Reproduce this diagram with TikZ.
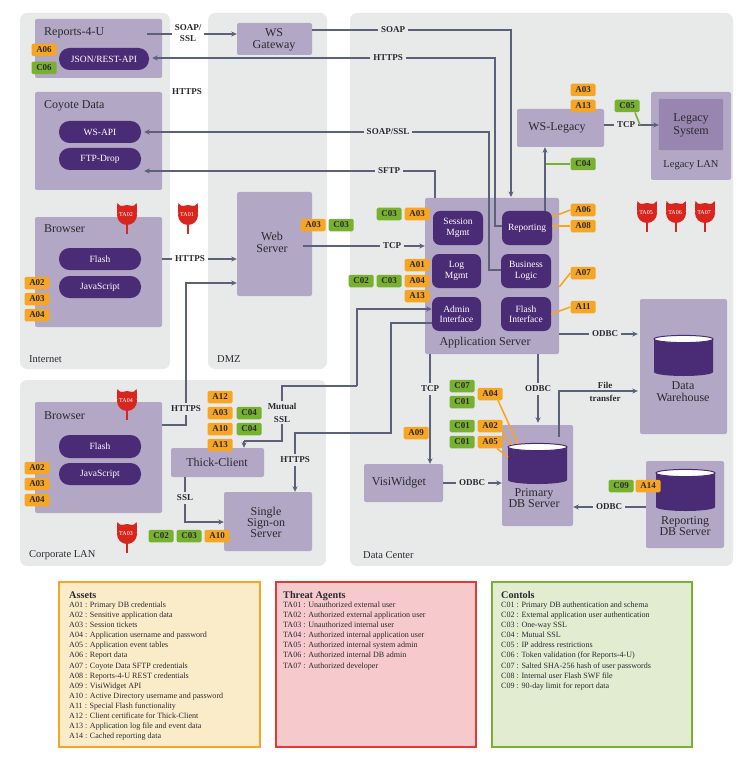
\documentclass[tikz,border=0pt]{standalone}
\usepackage{fontspec}
\setmainfont{Liberation Serif}
\usetikzlibrary{arrows.meta,calc}
\definecolor{zonec}{HTML}{E8EAEA}
\definecolor{boxc}{HTML}{B2A7C4}
\definecolor{pillc}{HTML}{4A2B75}
\definecolor{orangec}{HTML}{F6A623}
\definecolor{greenc}{HTML}{78B12F}
\definecolor{linec}{HTML}{5A6178}
\definecolor{redc}{HTML}{D8261F}
\definecolor{legacyc}{HTML}{9885B0}
\definecolor{txtc}{HTML}{2A2A30}
\definecolor{legA}{HTML}{FBECC9}
\definecolor{legT}{HTML}{F6C9CC}
\definecolor{legC}{HTML}{E2ECD0}
\definecolor{legTs}{HTML}{E03A34}
\newcommand\fs[1]{\fontsize{#1}{#1}\selectfont}
\newcommand\rr[7]{% name, style, x1,y1,x2,y2,text
  \pgfmathsetmacro\wdt{#5-#3}\pgfmathsetmacro\hgt{#6-#4}
  \pgfmathsetmacro\ccx{(#3+#5)/2}\pgfmathsetmacro\ccy{(#4+#6)/2}
  \node[#2,minimum width=\wdt pt,minimum height=\hgt pt] (#1) at (\ccx,\ccy) {#7};}
\newcommand\oa[3]{\node[oa] (#1) at (#2) {#3};}
\newcommand\ga[3]{\node[ga] (#1) at (#2) {#3};}
\newcommand\devil[4]{% name,x,y,text
  \begin{scope}[shift={(#2,#3)}]
  \fill[redc] (0,0) circle[radius=10pt];
  \fill[redc] (-10,-2) -- (-9.7,-12) .. controls (-8.5,-9.5) and (-6,-8.5) .. (-3,-9) -- (3,-9)
     .. controls (6,-8.5) and (8.5,-9.5) .. (9.7,-12) -- (10,-2) -- cycle;
  \fill[redc] (-1.3,8) rectangle (1.3,19);
  \node[inner sep=0pt,text=white,font=\fs{6}] (#1) at (-1,0) {#4};
  \end{scope}}
\newcommand\dbcyl[4]{% x1,x2,ytop,ybottom
  \pgfmathsetmacro\rxx{(#2-#1)/2}\pgfmathsetmacro\mxx{(#1+#2)/2}\pgfmathsetmacro\topc{#3+4}\pgfmathsetmacro\botc{#4-4}
  \fill[pillc] (#1,\topc) -- (#2,\topc) -- (#2,\botc) arc[start angle=0,end angle=-180,x radius=\rxx pt,y radius=4pt] -- cycle;
  \draw[pillc,fill=white,line width=1pt] (\mxx,\topc) ellipse[x radius=\rxx pt,y radius=3.6pt];}
\tikzset{
  x=1pt,y=-1pt,
  zone/.style={fill=zonec,rounded corners=7pt,draw=none,inner sep=0pt},
  box/.style={fill=boxc,rounded corners=2pt,draw=none,inner sep=0pt,align=center,font=\fs{12},text=txtc},
  pill/.style={fill=pillc,rounded corners=10.5pt,draw=none,inner sep=0pt,align=center,font=\fs{9.5},text=white},
  sq/.style={fill=pillc,rounded corners=7pt,draw=none,inner sep=0pt,align=center,font=\fs{9.5},text=white},
  title/.style={inner sep=0pt,anchor=base west,font=\fs{12},text=txtc},
  ctitle/.style={inner sep=0pt,align=center,font=\fs{12},text=txtc},
  zlabel/.style={inner sep=0pt,anchor=base west,font=\fs{10.5},text=txtc},
  oa/.style={fill=orangec,rounded corners=1.5pt,minimum width=25pt,minimum height=12.5pt,inner sep=0pt,font=\bfseries\fs{9},text=txtc},
  ga/.style={fill=greenc,rounded corners=1.5pt,minimum width=25pt,minimum height=12.5pt,inner sep=0pt,font=\bfseries\fs{9},text=txtc},
  lab/.style={inner sep=3pt,outer sep=0pt,font=\bfseries\fs{9},text=txtc,align=center},
  conn/.style={draw=linec,line width=1.2pt},
  arr/.style={conn,-{Stealth[length=5.5pt,width=5pt]}},
  oleader/.style={draw=orangec,line width=1.6pt},
  gleader/.style={draw=greenc,line width=1.6pt},
  legend/.style={inner sep=0pt,anchor=north west,align=left,font=\fontsize{8.05}{10.13}\selectfont,text=txtc},
  legendt/.style={inner sep=0pt,anchor=base west,font=\bfseries\fs{10.2},text=txtc},
}
\begin{document}
\begin{tikzpicture}
\useasboundingbox (0,0) rectangle (748,759);
\fill[white] (0,0) rectangle (748,759);
% zones
\rr{internet}{zone}{20}{13}{170}{369}{}
\rr{dmz}{zone}{208}{13}{327}{369}{}
\rr{corp}{zone}{20}{380}{326}{566}{}
\rr{dc}{zone}{350}{13}{733}{566}{}
\node[zlabel] (zi) at (29,362.5) {Internet};
\node[zlabel] (zd) at (217,362.5) {DMZ};
\node[zlabel] (zc) at (29,557) {Corporate LAN};
\node[zlabel] (zdc) at (363,558) {Data Center};
% boxes
\rr{reports}{box}{35}{19}{162}{78}{}
\rr{coyote}{box}{35}{92}{162}{190}{}
\rr{browser}{box}{35}{217}{162}{327}{}
\rr{gateway}{box}{237}{23}{312}{55}{}
\rr{web}{box}{237}{192}{312}{296}{}
\rr{appsrv}{box}{425}{198}{559}{354}{}
\rr{wslegacy}{box}{517}{109}{604}{147}{}
\rr{legacylan}{box}{651}{92}{731}{180}{}
\rr{legacysys}{box}{659}{99}{723}{150}{}
\rr{warehouse}{box}{640}{299}{727}{434}{}
\rr{primary}{box}{502}{425}{573}{526}{}
\rr{visi}{box}{364}{464}{443}{502}{}
\rr{repdb}{box}{646}{461}{724}{548}{}
\rr{cbrowser}{box}{35}{402}{162}{513}{}
\rr{thick}{box}{171}{448}{264}{477}{}
\rr{sso}{box}{224}{492}{312}{551}{}
\fill[legacyc,rounded corners=1pt] (legacysys.south west) rectangle (legacysys.north east);
\node[ctitle] (tgw) at (274,39.5) {WS\\Gateway};
\node[ctitle] (tweb) at (272,242.5) {Web\\Server};
\node[ctitle] (tlegacyws) at (557,128) {WS-Legacy};
\node[ctitle] (tvisi) at (399,483) {VisiWidget};
\node[ctitle] (tthick) at (217,462) {Thick-Client};
\node[ctitle] (tsso) at (266,522.5) {Single\\[-1pt]Sign-on\\[-1pt]Server};
\node[ctitle] (legacytxt) at (691,125) {Legacy\\[1pt]System};
\node[inner sep=0pt,font=\fs{10.5},text=txtc,anchor=base] (legacylab) at (691,168) {Legacy LAN};
\node[title] (treports) at (44,36) {Reports-4-U};
\node[title] (tcoyote) at (44,109) {Coyote Data};
\node[title] (tbrowser) at (44,233) {Browser};
\node[title] (tcbrowser) at (44,419) {Browser};
\node[ctitle] (tapp) at (485,343) {Application Server};
\node[ctitle] (twh) at (683,392) {Data\\Warehouse};
\node[ctitle] (tprim) at (534,498.5) {Primary\\[-1pt]DB Server};
\node[ctitle] (trep) at (685,526.5) {Reporting\\[-1pt]DB Server};
% connector labels
\node[lab] (l1) at (188,33.5) {SOAP/\\[2pt]SSL};
\node[lab] (l2) at (393,30) {SOAP};
\node[lab] (l3) at (388,58) {HTTPS};
\node[lab] (l4) at (388,132) {SOAP/SSL};
\node[lab] (l5) at (389,171) {SFTP};
\node[lab] (l6) at (626,125) {TCP};
\node[lab] (l7) at (392,246) {TCP};
\node[lab] (l8) at (190,259) {HTTPS};
\node[lab] (l9) at (186,409) {HTTPS};
\node[lab,inner sep=2pt] (l10) at (282,412.5) {Mutual\\[4pt]SSL};
\node[lab] (l11) at (295,460) {HTTPS};
\node[lab] (l12) at (185,498) {SSL};
\node[lab] (l13) at (430,389) {TCP};
\node[lab] (l14) at (538,389) {ODBC};
\node[lab] (l15) at (605,334) {ODBC};
\node[lab] (l16) at (472,483) {ODBC};
\node[lab] (l17) at (609,507) {ODBC};
\node[lab,inner sep=0pt] (l18) at (605,385) {File};
\node[lab,inner sep=0pt] (l19) at (605,398) {transfer};
\node[lab] (l20) at (187,92) {HTTPS};
% free ends
\coordinate (c1) at (147,34);
\coordinate (c2) at (511,197);
\coordinate (c3) at (495,58);
\coordinate (c4) at (489,132);
\coordinate (c5) at (435,171);
\coordinate (c6) at (303,246);
\coordinate (c7) at (357,386);
\coordinate (c8) at (391,433);
\coordinate (c9) at (559,437);
\coordinate (c10) at (559,391);
\coordinate (c11) at (244,441);
% inner elements
\rr{jsonapi}{pill}{59}{48}{149}{70}{JSON/REST-API}
\rr{wsapi}{pill}{59}{121}{141}{143}{WS-API}
\rr{ftp}{pill}{59}{148}{141}{170}{FTP-Drop}
\rr{flash}{pill}{59}{248}{141}{270}{Flash}
\rr{js}{pill}{59}{276}{141}{298}{JavaScript}
\rr{cflash}{pill}{59}{435}{141}{458}{Flash}
\rr{cjs}{pill}{59}{463}{141}{485}{JavaScript}
\rr{session}{sq}{433}{211}{483}{245}{Session\\[1pt]Mgmt}
\rr{reporting}{sq}{502}{211}{552}{245}{Reporting}
\rr{logm}{sq}{432}{254}{481}{288}{Log\\[1pt]Mgmt}
\rr{bizlogic}{sq}{501}{254}{551}{288}{Business\\[1pt]Logic}
\rr{admin}{sq}{432}{297}{481}{331}{Admin\\[1pt]Interface}
\rr{flashif}{sq}{501}{297}{551}{331}{Flash\\[1pt]Interface}
\dbcyl{654}{713}{335}{376}
\dbcyl{508}{567}{443}{484}
\dbcyl{656}{715}{469}{511}
% connectors
\draw[conn] (c1) -- (c1 -| l1.west);
\draw[arr] (c1 -| l1.east) -- (c1 -| gateway.west);
\draw[conn] (gateway.east |- l2) -- (l2);
\draw[arr] (l2) -- (c2 |- l2) -- (c2);
\draw[conn] (reporting.west |- 0,226) -- (c3 |- 0,226) -- (c3) -- (l3);
\draw[arr] (l3) -- ([xshift=3pt]jsonapi.east |- l3);
\draw[conn] (bizlogic.west |- 0,270) -- (c4 |- 0,270) -- (c4) -- (l4);
\draw[arr] (l4) -- ([xshift=3pt]wsapi.east |- l4);
\draw[conn] (appsrv.north -| c5) -- (c5) -- (l5);
\draw[arr] (l5) -- ([xshift=3pt]ftp.east |- l5);
\draw[arr] (reporting.north -| 545,0) -- (wslegacy.south -| 545,0);
\draw[conn] (wslegacy.east |- l6) -- (l6);
\draw[arr] (l6) -- (legacysys.west |- l6);
\draw[conn] (c6) -- (l7);
\draw[arr] (l7) -- (appsrv.west |- l7);
\draw[conn] (browser.east |- l8) -- (l8);
\draw[arr] (l8) -- (web.west |- l8);
\draw[conn] (cbrowser.east |- 0,425) -- (l9.south |- 0,425) -- (l9.south);
\draw[arr] (l9.north) -- (l9.north |- 0,283) -- (web.west |- 0,283);
\draw[conn] (l10.south) -- (l10.south |- c11) -- (c11);
\draw[arr] (c11) -- (thick.north -| c11);
\draw[conn] (l10.north) -- (l10.north |- c7) -- (c7);
\draw[arr] (c7) -- (c7 |- 0,309) -- (admin.west |- 0,309);
\draw[arr] (l11.south) -- (sso.north -| l11);
\draw[conn] (l11.north) -- (l11.north |- c8) -- (c8) -- (c8 |- 0,323) -- (admin.west |- 0,323);
\draw[conn] (thick.south -| l12) -- (l12.north);
\draw[arr] (l12.south) -- (l12.south |- 0,522) -- (sso.west |- 0,522);
\draw[conn] (appsrv.south -| l13) -- (l13.north);
\draw[arr] (l13.south) -- (visi.north -| l13);
\draw[conn] (appsrv.south -| l14) -- (l14.north);
\draw[arr] (l14.south) -- ([yshift=2pt]primary.north -| l14);
\draw[conn] (appsrv.east |- l15) -- (l15);
\draw[arr] (l15) -- ([xshift=-2pt]warehouse.west |- l15);
\draw[arr] (c9) -- (c10) -- ([xshift=-2pt]warehouse.west |- c10);
\draw[conn] (visi.east |- l16) -- (l16);
\draw[arr] (l16) -- (primary.west |- l16);
\draw[conn] (repdb.west |- l17) -- (l17);
\draw[arr] (l17) -- (primary.east |- l17);
% badges
\oa{a06r}{44,50}{A06}
\ga{c06r}{44,68}{C06}
\oa{a02b}{37,283}{A02}
\oa{a03b}{37,299}{A03}
\oa{a04b}{37,315}{A04}
\oa{a03w}{313,225}{A03}
\ga{c03w}{341,225}{C03}
\ga{c03s}{389,214}{C03}
\oa{a03s}{417,214}{A03}
\oa{a01l}{417,265}{A01}
\oa{a04l}{417,281}{A04}
\oa{a13l}{417,296}{A13}
\ga{c02l}{361,281}{C02}
\ga{c03l}{389,281}{C03}
\oa{a06p}{583,210}{A06}
\oa{a08p}{583,226}{A08}
\oa{a07p}{583,273}{A07}
\oa{a11p}{583,307}{A11}
\oa{a03y}{583,90}{A03}
\oa{a13y}{583,106}{A13}
\ga{c04y}{583,164}{C04}
\ga{c05y}{627,106}{C05}
\ga{c07d}{462,386}{C07}
\ga{c01a}{462,402}{C01}
\oa{a04d}{490,394}{A04}
\ga{c01b}{462,426}{C01}
\oa{a02d}{490,426}{A02}
\ga{c01c}{462,442}{C01}
\oa{a05d}{490,442}{A05}
\oa{a09v}{416,433}{A09}
\ga{c09d}{621,486}{C09}
\oa{a14d}{648,486}{A14}
\oa{a02c}{37,468}{A02}
\oa{a03c}{37,484}{A03}
\oa{a04c}{37,500}{A04}
\oa{a12t}{220,397}{A12}
\oa{a03t}{220,413}{A03}
\ga{c04t}{249,413}{C04}
\oa{a10t}{220,429}{A10}
\ga{c04u}{249,429}{C04}
\oa{a13t}{220,445}{A13}
\ga{c02o}{161,536}{C02}
\ga{c03o}{189,536}{C03}
\oa{a10o}{217,536}{A10}
% leaders
\draw[oleader] (a06p.west) -- ([yshift=11pt]reporting.east);
\draw[oleader] (a08p.west) -- (reporting.east |- a08p);
\draw[oleader] (a07p.west) -- (appsrv.east |- 0,287);
\draw[oleader] (a11p.west) -- (flashif.east);
\draw[gleader] (c04y.west) -- (546,164);
\draw[gleader] ([xshift=8pt]c05y.south) -- (640,125);
\draw[oleader] ([xshift=8pt]a04d.south) -- (518,444);
\draw[oleader] (a02d.south east) -- (512,445);
\draw[oleader] ([xshift=7pt]a05d.south) -- (508,457);
% devils
\devil{ta02}{127}{215}{TA02}
\devil{ta01}{188}{215}{TA01}
\devil{ta04}{127}{401}{TA04}
\devil{ta03}{127}{534}{TA03}
\devil{ta05}{647}{213}{TA05}
\devil{ta06}{676}{213}{TA06}
\devil{ta07}{705}{213}{TA07}
% legends
\draw[orangec,line width=2pt,fill=legA] (59,582) rectangle (260,747);
\draw[legTs,line width=2pt,fill=legT] (276,582) rectangle (476,747);
\draw[greenc,line width=2pt,fill=legC] (492,582) rectangle (692,747);
\node[legendt] (t1) at (69,598.5) {Assets};
\node[legendt] (t2) at (283,598.5) {Threat Agents};
\node[legendt] (t3) at (501,598.5) {Contols};
\node[legend] (leg1) at (69,601.5) {A01 : Primary DB credentials\\
A02 : Sensitive application data\\
A03 : Session tickets\\
A04 : Application username and password\\
A05 : Application event tables\\
A06 : Report data\\
A07 : Coyote Data SFTP credentials\\
A08 : Reports-4-U REST credentials\\
A09 : VisiWidget API\\
A10 : Active Directory username and password\\
A11 : Special Flash functionality\\
A12 : Client certificate for Thick-Client\\
A13 : Application log file and event data\\
A14 : Cached reporting data};
\node[legend] (leg2) at (283,601.5) {TA01 : Unauthorized external user\\
TA02 : Authorized external application user\\
TA03 : Unauthorized internal user\\
TA04 : Authorized internal application user\\
TA05 : Authorized internal system admin\\
TA06 : Authorized internal DB admin\\
TA07 : Authorized developer};
\node[legend] (leg3) at (501,601.5) {C01 : Primary DB authentication and schema\\
C02 : External application user authentication\\
C03 : One-way SSL\\
C04 : Mutual SSL\\
C05 : IP address restrictions\\
C06 : Token validation (for Reports-4-U)\\
C07 : Salted SHA-256 hash of user passwords\\
C08 : Internal user Flash SWF file\\
C09 : 90-day limit for report data};
\end{tikzpicture}
\end{document}
